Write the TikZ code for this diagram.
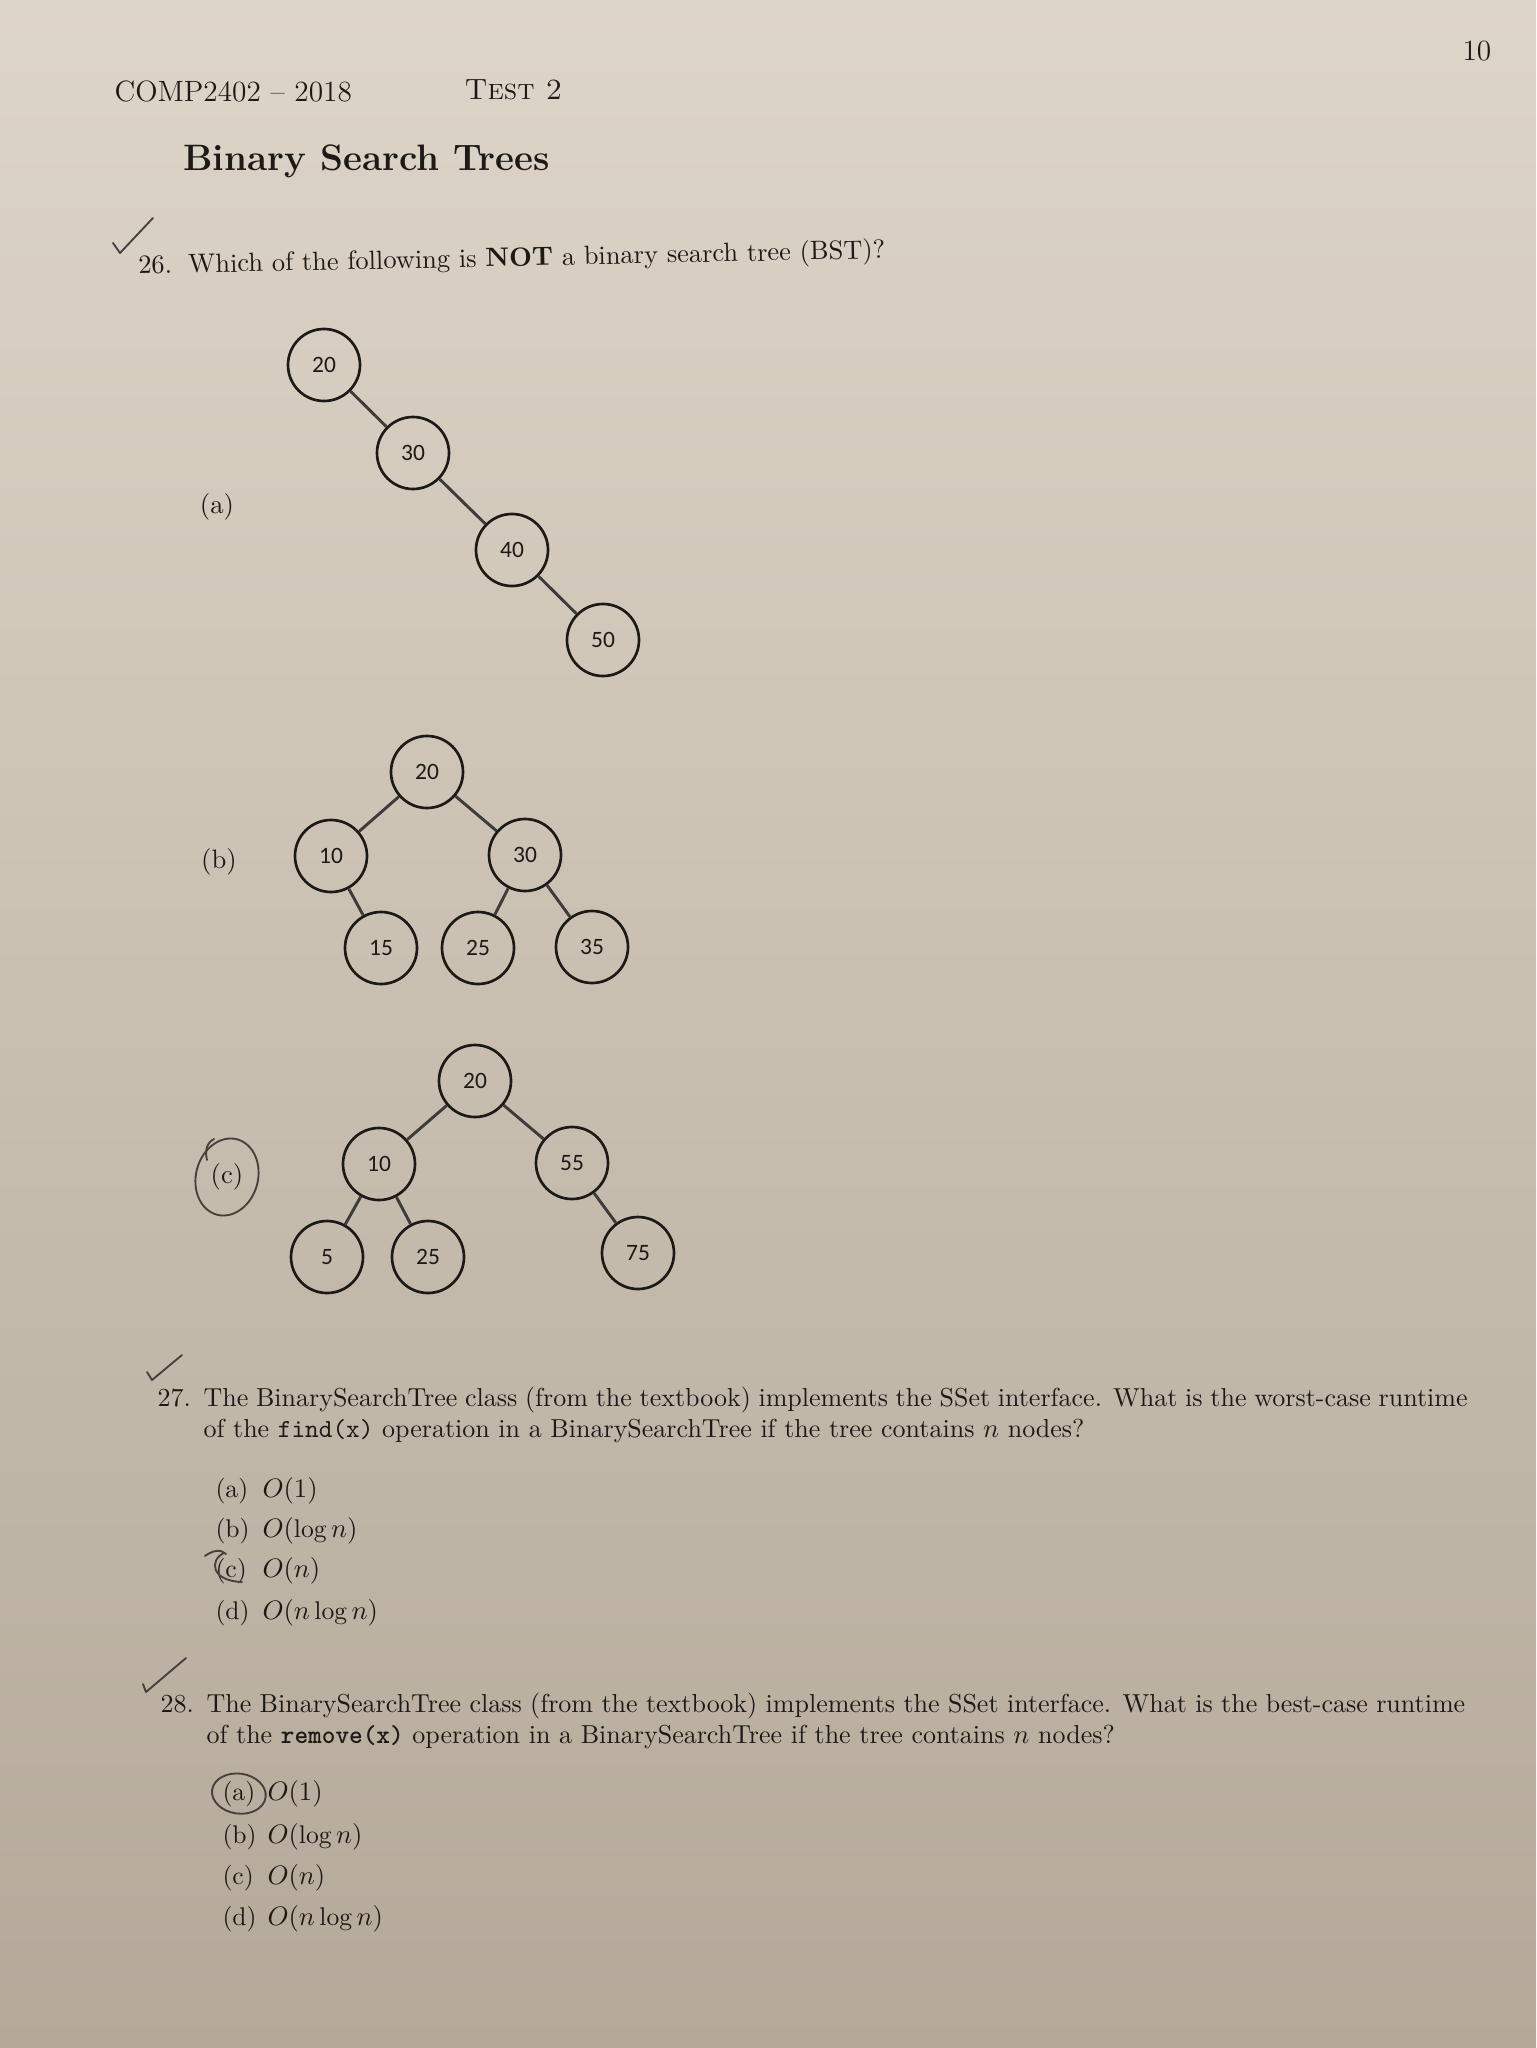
\documentclass[tikz,border=0pt]{standalone}
\usepackage{fontspec}
\newfontfamily\carlito{Carlito}
\usetikzlibrary{positioning}
\definecolor{ink}{RGB}{28,25,23}
\definecolor{papertop}{RGB}{221,213,200}
\definecolor{paperbot}{RGB}{180,169,153}
\definecolor{pencil}{RGB}{70,65,61}

\begin{document}
\begin{tikzpicture}[x=0.375pt, y=-0.375pt,
    keynode/.style={circle, draw=ink, line width=1pt, minimum size=27pt, inner sep=0pt, text=ink, font=\carlito\fontsize{8.8}{10}\selectfont},
    link/.style={draw=ink!85, line width=1.1pt},
    txt/.style={inner sep=0pt, text=ink, anchor=base west},
    body/.style={txt, font=\fontsize{9.75}{11}\selectfont},
    opt/.style={txt, font=\fontsize{9.6}{11}\selectfont},
    sublabel/.style={inner sep=0pt, text=ink, font=\fontsize{10}{12}\selectfont},
    penmark/.style={draw=pencil, line width=0.7pt, line cap=round, line join=round}
]
\shade[top color=papertop, bottom color=paperbot] (0,0) rectangle (1536,2048);
\useasboundingbox (0,0) rectangle (1536,2048);

% header
\node[txt, font=\fontsize{11}{13}\selectfont] (course) at (114,102) {COMP2402 -- 2018};
\node[txt, font=\fontsize{11}{13}\selectfont] (test) at (464,100) {\textsc{Test 2}};
\node[txt, font=\fontsize{11}{13}\selectfont] (page) at (1462,61) {10};
\node[txt, font=\bfseries\fontsize{13.8}{16}\selectfont] (title) at (183,171) {Binary Search Trees};

% question 26
\node[txt, font=\fontsize{9.9}{12}\selectfont, rotate=1.2] (q26) at (138,274) {\makebox[18.75pt][l]{26.}Which of the following is \textbf{NOT} a binary search tree (BST)?};

% tree (a)
\node[sublabel] (laba) at (217,507) {(a)};
\node[keynode] (ta20) at (324,365) {20};
\node[keynode] (ta30) at (413,453) {30};
\node[keynode] (ta40) at (512,550) {40};
\node[keynode] (ta50) at (603,640) {50};
\draw[link] (ta20) -- (ta30);
\draw[link] (ta30) -- (ta40);
\draw[link] (ta40) -- (ta50);

% tree (b)
\node[sublabel] (labb) at (219,862) {(b)};
\node[keynode] (tb20) at (427,772) {20};
\node[keynode] (tb10) at (331,856) {10};
\node[keynode] (tb30) at (525,855) {30};
\node[keynode] (tb15) at (381,948) {15};
\node[keynode] (tb25) at (478,948) {25};
\node[keynode] (tb35) at (592,947) {35};
\draw[link] (tb20) -- (tb10);
\draw[link] (tb20) -- (tb30);
\draw[link] (tb10) -- (tb15);
\draw[link] (tb30) -- (tb25);
\draw[link] (tb30) -- (tb35);

% tree (c)
\node[sublabel] (labc) at (227,1177) {(c)};
\node[keynode] (tc20) at (475,1081) {20};
\node[keynode] (tc10) at (379,1164) {10};
\node[keynode] (tc55) at (572,1163) {55};
\node[keynode] (tc5) at (327,1257) {5};
\node[keynode] (tc25) at (428,1257) {25};
\node[keynode] (tc75) at (638,1253) {75};
\draw[link] (tc20) -- (tc10);
\draw[link] (tc20) -- (tc55);
\draw[link] (tc10) -- (tc5);
\draw[link] (tc10) -- (tc25);
\draw[link] (tc55) -- (tc75);

% question 27
\node[body] (q27n) at (157,1406) {27.};
\node[body] (q27l1) at (203,1406) {\makebox[474pt][s]{The BinarySearchTree class (from the textbook) implements the SSet interface. What is the worst-case runtime}};
\node[body] (q27l2) at (203,1437) {of the \texttt{find(x)} operation in a BinarySearchTree if the tree contains $n$ nodes?};
\node[opt] (q27a) at (215,1497) {(a)};
\node[opt] (q27av) at (262,1497) {$O(1)$};
\node[opt] (q27b) at (215,1537) {(b)};
\node[opt] (q27bv) at (262,1537) {$O(\log n)$};
\node[opt] (q27c) at (215,1577) {(c)};
\node[opt] (q27cv) at (262,1577) {$O(n)$};
\node[opt] (q27d) at (215,1619) {(d)};
\node[opt] (q27dv) at (262,1619) {$O(n\log n)$};

% question 28
\node[body] (q28n) at (160,1712) {28.};
\node[body] (q28l1) at (206,1712) {\makebox[472pt][s]{The BinarySearchTree class (from the textbook) implements the SSet interface. What is the best-case runtime}};
\node[body] (q28l2) at (206,1743) {of the \texttt{\bfseries remove(x)} operation in a BinarySearchTree if the tree contains $n$ nodes?};
\node[opt] (q28a) at (222,1800) {(a)};
\node[opt] (q28av) at (267,1800) {$O(1)$};
\node[opt] (q28b) at (222,1843) {(b)};
\node[opt] (q28bv) at (267,1843) {$O(\log n)$};
\node[opt] (q28c) at (222,1884) {(c)};
\node[opt] (q28cv) at (267,1884) {$O(n)$};
\node[opt] (q28d) at (222,1925) {(d)};
\node[opt] (q28dv) at (267,1925) {$O(n\log n)$};

% pencil marks
\draw[penmark] (113,243) -- (120,253) -- (153,218);
\draw[penmark] (147,1372) -- (152,1380) -- (182,1355);
\draw[penmark] (143,1684) -- (146,1692) -- (186,1658);
\draw[penmark, rotate around={-15:(labc.center)}] (labc.center) ellipse [x radius=31, y radius=39];
\draw[penmark] (214,1139) .. controls (206,1143) and (205,1152) .. (207,1160);
\draw[penmark] (205,1556) .. controls (213,1550) and (221,1549) .. (226,1554);
\draw[penmark] (224,1553) .. controls (209,1560) and (211,1581) .. (242,1582);
\draw[penmark, rotate around={-8:(q28a.center)}] (q28a.center) ellipse [x radius=27, y radius=20];
\end{tikzpicture}
\end{document}
